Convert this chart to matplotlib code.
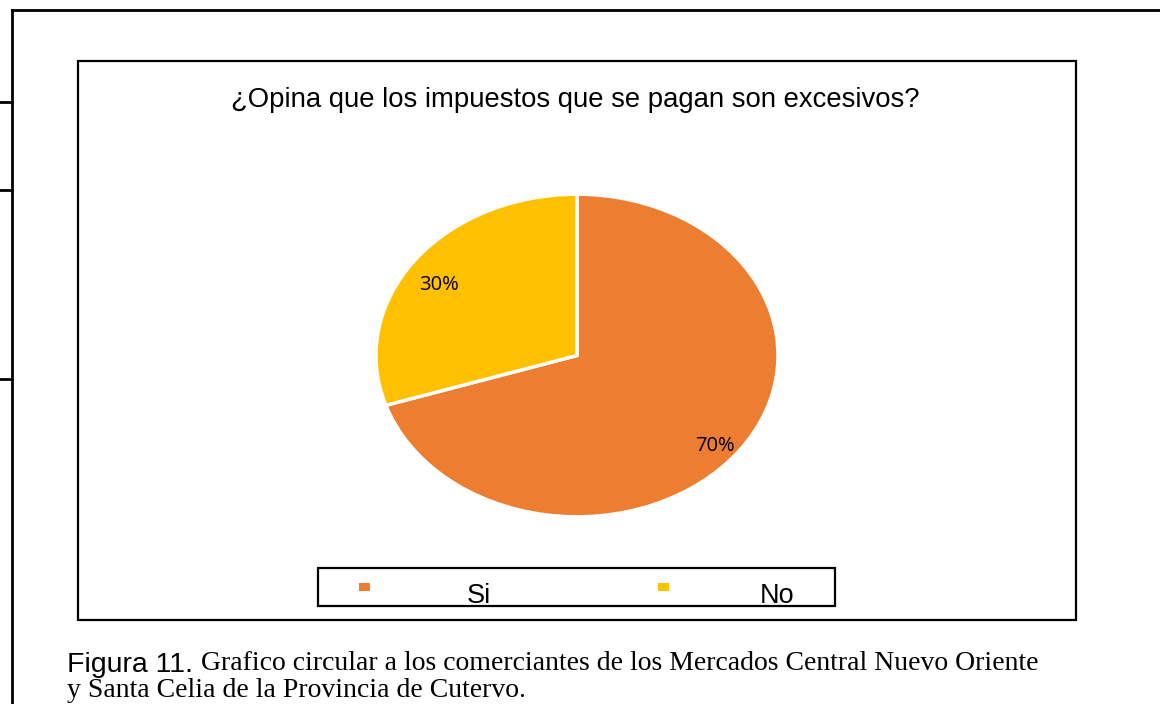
import matplotlib
matplotlib.use("Agg")
import matplotlib.pyplot as plt
from matplotlib.lines import Line2D
from matplotlib.patches import Rectangle
from matplotlib.transforms import offset_copy

# data
categories = ["Si", "No"]
values = [70, 30]
colors = ["#ED7D31", "#FFC000"]
title = "¿Opina que los impuestos que se pagan son excesivos?"

W, H = 1160, 704
fig = plt.figure(figsize=(W / 100, H / 100), dpi=100)


def fx(px):
    return px / W


def fy(py):
    return 1 - py / H


# outer page frame and the little left ticks
fig.add_artist(Line2D([fx(12), fx(12)], [0, fy(10)], color="black", lw=2))
fig.add_artist(Line2D([fx(12), 1], [fy(10), fy(10)], color="black", lw=2))
for ty in [102, 190, 379]:
    fig.add_artist(Line2D([0, fx(12)], [fy(ty), fy(ty)], color="black", lw=2))

# chart area box
fig.add_artist(Rectangle((fx(78), fy(620)), fx(1076) - fx(78), fy(61) - fy(620),
                         fill=False, edgecolor="black", lw=1.6))

fig.text(fx(575), fy(100), title, ha="center", va="center", fontsize=19.8,
         family="Liberation Sans")

# pie (stretched into an ellipse)
ax = fig.add_axes([fx(377), fy(516), fx(777) - fx(377), fy(195) - fy(516)])
wedges, texts, autotexts = ax.pie(values, colors=colors, startangle=90, counterclock=False,
                                  autopct="%1.0f%%", pctdistance=0.85,
                                  wedgeprops=dict(edgecolor="white", linewidth=2.5))
for t in autotexts:
    t.set_fontsize(14.5)
    t.set_family("Open Sans")
    t.set_transform(offset_copy(ax.transData, fig=fig, x=0, y=-10, units="dots"))
ax.set_aspect("auto")
ax.set_xlim(-0.995, 0.995)
ax.set_ylim(-0.995, 0.995)

# legend drawn by hand to get the wide spacing
fig.add_artist(Rectangle((fx(318), fy(606)), fx(835) - fx(318), fy(568) - fy(606),
                         fill=False, edgecolor="black", lw=1.6))
for name, col, mx, tx in zip(categories, colors, [364.5, 663], [467, 760]):
    fig.add_artist(Rectangle((fx(mx - 5.5), fy(591)), fx(11), 8 / H,
                             facecolor=col, edgecolor="none"))
    fig.text(fx(tx), fy(603), name, fontsize=19.5, va="baseline",
             family="Liberation Sans")

# caption
fig.text(fx(67), fy(672), "Figura 11.", fontsize=20.5, va="baseline",
         family=["Liberation Sans Narrow", "Liberation Sans"])
fig.text(fx(201), fy(670), "Grafico circular a los comerciantes de los Mercados Central Nuevo Oriente",
         fontsize=20, va="baseline", family="Liberation Serif")
fig.text(fx(67), fy(697), "y Santa Celia de la Provincia de Cutervo.",
         fontsize=20, va="baseline", family="Liberation Serif")

fig.savefig("out.png", dpi=100)
